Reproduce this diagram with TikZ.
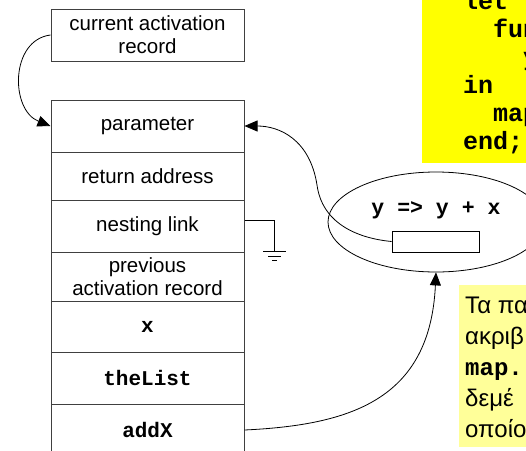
\documentclass[tikz,border=0pt]{standalone}
\usepackage{fontspec}
\setmainfont{Liberation Sans}
\setmonofont{Liberation Mono}
\usetikzlibrary{shapes.geometric,arrows.meta}
\definecolor{codeyellow}{HTML}{FFFF00}
\definecolor{noteyellow}{HTML}{FFFF99}

\begin{document}
\begin{tikzpicture}[x=1pt,y=-1pt]
\tikzstyle{every node}+=[inner sep=0pt]
\tikzstyle{cell}=[draw=black!75,line width=1pt,minimum width=193pt,align=center,font=\fontsize{20.5}{23}\selectfont]
\tikzstyle{codecell}=[cell,font=\ttfamily\bfseries\fontsize{21}{25}\selectfont]
\tikzstyle{link}=[draw,line width=0.8pt,-{Triangle[length=13pt,width=11pt]}]
\useasboundingbox (0,0) rectangle (526,450);
\clip (0,0) rectangle (526,450);
\fill[codeyellow] (422,-10) rectangle (540,163);
\node[anchor=west,align=left,font=\ttfamily\bfseries\fontsize{25}{28}\selectfont] (code) at (463,73) {let\\\phantom{xx}fun\\\phantom{xxxx}y\\in\\\phantom{xx}map\\end;};
\fill[noteyellow] (459,285) rectangle (540,447);
\node[anchor=west,align=left,font=\fontsize{24}{31}\selectfont] (note) at (465,367) {Τα πα\\ακριβ\\\texttt{\bfseries map.}\\δεμέ\\οποίο};
\node[cell,minimum height=52pt] (current) at (147.5,35) {current activation\\record};
\node[cell,minimum height=52pt] (param) at (147.5,126) {parameter};
\node[cell,minimum height=48pt] (ret) at (147.5,176) {return address};
\node[cell,minimum height=52pt] (nest) at (147.5,226) {nesting link};
\node[cell,minimum height=49pt] (prev) at (147.5,276.5) {previous\\activation record};
\node[codecell,minimum height=51pt] (xval) at (147.5,326.5) {x};
\node[codecell,minimum height=52pt] (list) at (147.5,378) {theList};
\node[codecell,minimum height=52pt] (addx) at (147.5,430) {addX};
\node[draw,ellipse,line width=0.8pt,minimum width=216pt,minimum height=100pt] (closure) at (436,222) {};
\node[font=\ttfamily\bfseries\fontsize{21.5}{25}\selectfont] (body) at (436,210) {y => y + x};
\node[draw,line width=0.8pt,minimum width=87pt,minimum height=21pt] (env) at (435.5,241.5) {};
\draw[link] (current.west) .. controls (10,40) and (10,110) .. (param.west);
\draw[link] (env.west) .. controls (355,238) and (322,222) .. (317,185) .. controls (310,140) and (280,126) .. (param.east);
\draw[link] (addx.east) .. controls (350,425) and (430,400) .. (closure.south);
\coordinate (gnd) at (274,251.7);
\draw[line width=0.8pt] ([yshift=6pt]nest.east) -| (gnd);
\draw[line width=0.8pt] (gnd) ++(-11,0) -- ++(23,0)
  (gnd) ++(-6,4.5) -- ++(13,0)
  (gnd) ++(-2,9) -- ++(5,0);
\end{tikzpicture}
\end{document}
